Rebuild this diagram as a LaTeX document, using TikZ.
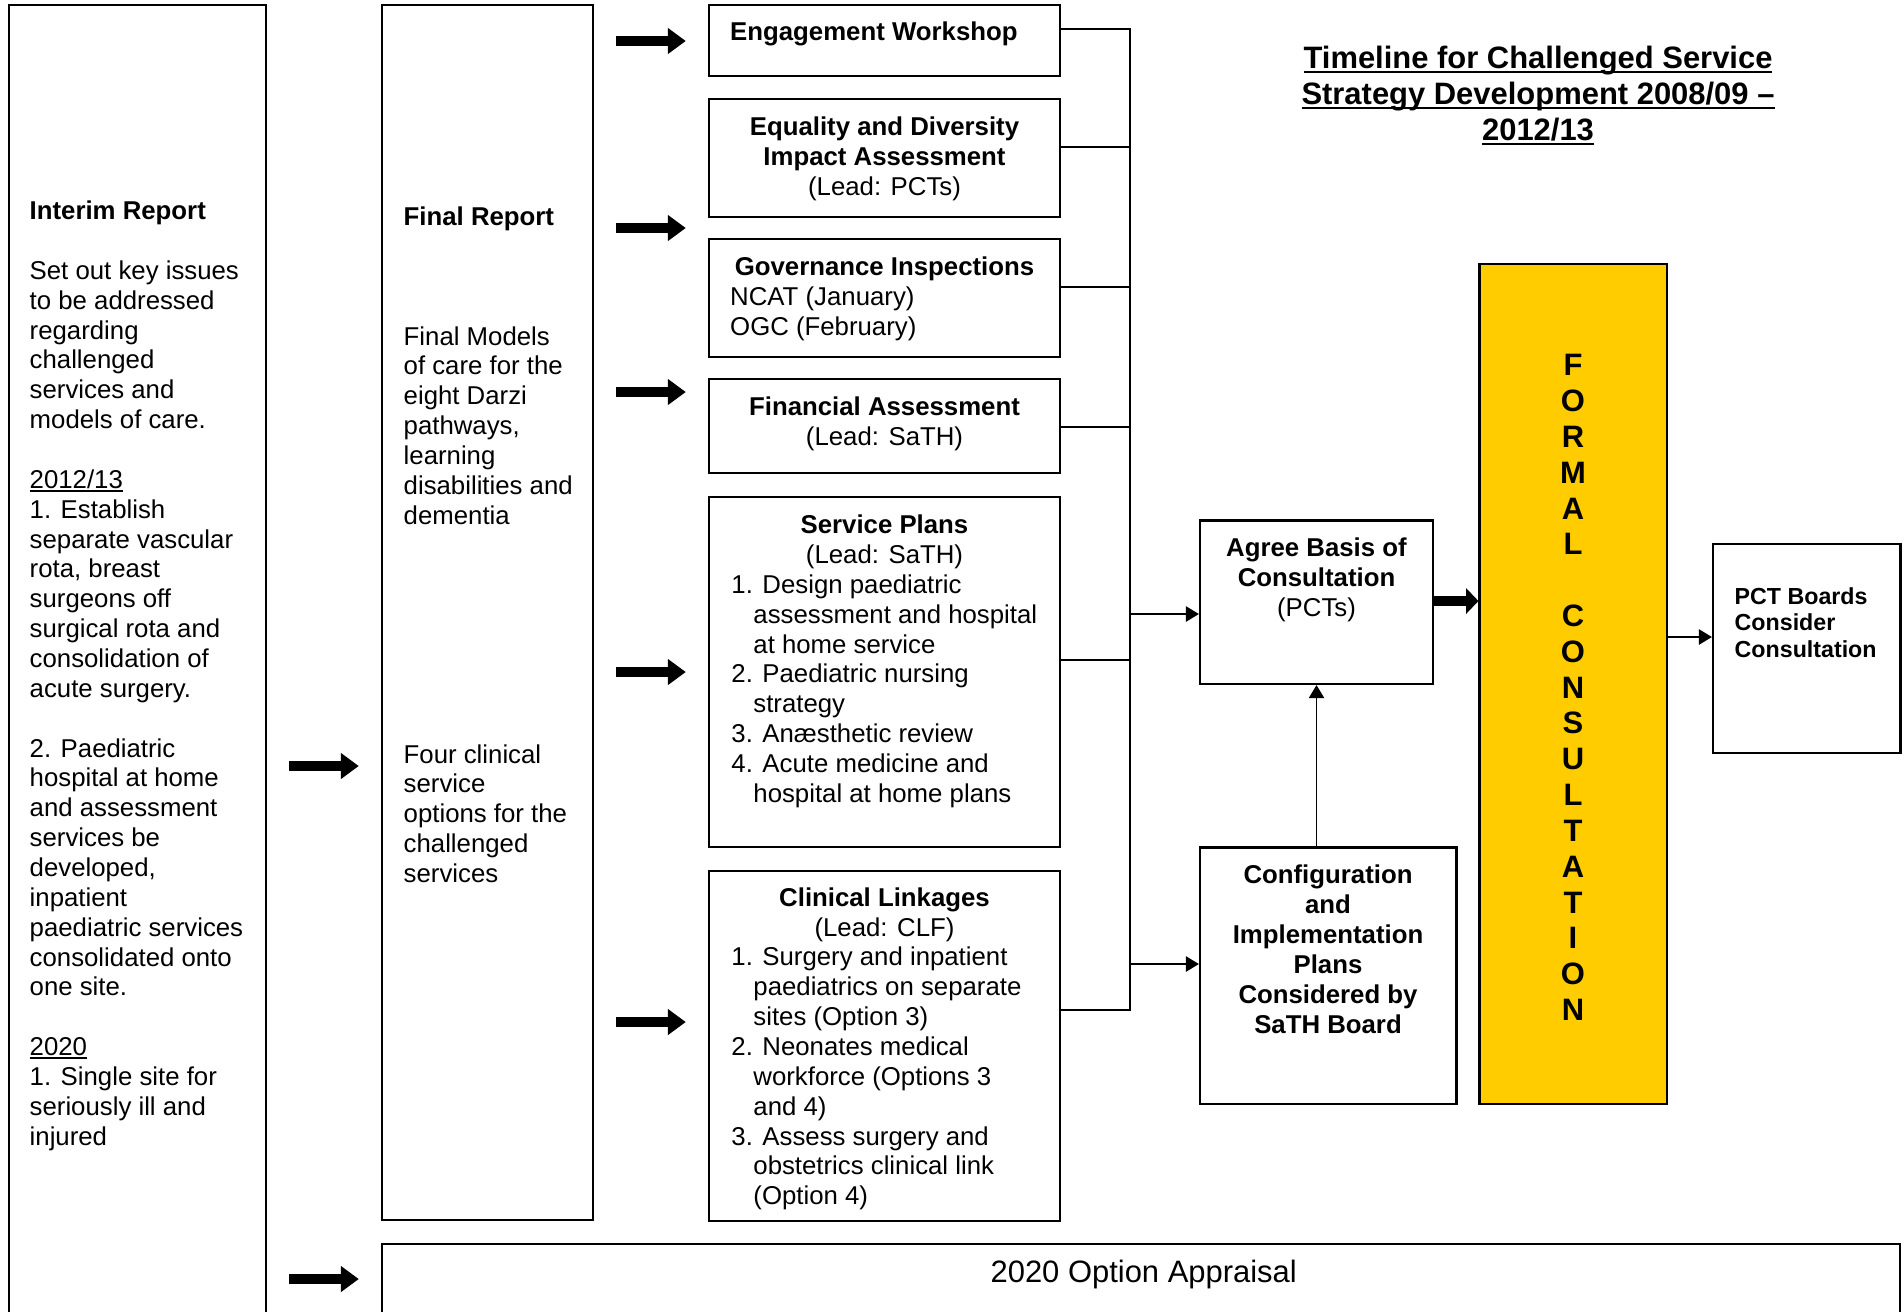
\documentclass[tikz,border=0pt]{standalone}
\usepackage{fontspec}
\setmainfont{Liberation Sans}
\usetikzlibrary{arrows.meta,fit}
\definecolor{fyellow}{RGB}{255,204,0}
\newsavebox\myulbox
\newcommand\myul[3]{\sbox\myulbox{#1}\usebox\myulbox\llap{\rule[#2]{\wd\myulbox}{#3}}}
\newcommand\bul[1]{\myul{#1}{-1.05pt}{0.54pt}}
\newcommand\tul[1]{\myul{#1}{-1.25pt}{0.64pt}}
\newcommand\bodyfont{\fontsize{7.33pt}{8.49pt}\selectfont}
\newcommand\sA{\rule{0pt}{6.5pt}}
\newcommand\ind{\hspace*{6.26pt}}
\begin{document}
\begin{tikzpicture}[x=0.01cm,y=-0.01cm,
  box/.style={draw, line width=0.6pt, inner sep=0pt, fit={#1}},
  txtL/.style={anchor=north west, inner sep=0pt, align=left, font=\bodyfont, yshift=6.5pt},
  txtC/.style={anchor=north, inner sep=0pt, align=center, font=\bodyfont, yshift=6.5pt},
  con/.style={line width=0.55pt},
  arr/.style={con, -{Triangle[length=3.7pt,width=4.3pt]}},
  fat/.style={line width=3pt, -{Triangle[length=5.1pt,width=7.1pt]}, shorten <=6.3pt, shorten >=6.3pt},
  bigletters/.style={anchor=north, inner sep=0pt, align=center, font=\bfseries\fontsize{8.8pt}{10.19pt}\selectfont, yshift=8pt}
]
\useasboundingbox (0,0) rectangle (1904,1311);
\clip (0,0) rectangle (1904,1311);

% boxes
\node[box={(9,5) (266,1340)}] (interim) {};
\node[box={(382,5) (593,1220)}] (final) {};
\node[box={(709,5) (1060,76)}] (eng) {};
\node[box={(709,99.3) (1060,217)}] (eq) {};
\node[box={(709,239.3) (1060,357.3)}] (gov) {};
\node[box={(709,379.3) (1060,473.3)}] (finas) {};
\node[box={(709,497) (1060,846.7)}] (serv) {};
\node[box={(709,871) (1060,1221)}] (clin) {};
\node[box={(382,1244) (1900,1340)}] (opt) {};
\node[box={(1200,520.5) (1433,684)}] (agree) {};
\node[box={(1200,847.5) (1456.5,1104)}] (config) {};
\node[box={(1479.5,263.6) (1667,1104)}, fill=fyellow] (formal) {};
\node[box={(1713,544) (1900.5,753)}] (pct) {};

% Interim report text
\node[txtL] (i1) at (29,219) {\sA\textbf{Interim Report}};
\node[txtL] (i2) at (29,278.7) {\sA Set out key issues\\to be addressed\\regarding\\challenged\\services and\\models of care.};
\node[txtL] (i3) at (29,487.7) {\sA\bul{2012/13}\\1. Establish\\separate vascular\\rota, breast\\surgeons off\\surgical rota and\\consolidation of\\acute surgery.};
\node[txtL] (i4) at (29,756.3) {\sA 2. Paediatric\\hospital at home\\and assessment\\services be\\developed,\\inpatient\\paediatric services\\consolidated onto\\one site.};
\node[txtL] (i5) at (29,1054.8) {\sA\bul{2020}\\1. Single site for\\seriously ill and\\injured};

% Final report text
\node[txtL] (f1) at (403,225) {\sA\textbf{Final Report}};
\node[txtL] (f2) at (403,344.4) {\sA Final Models\\of care for the\\eight Darzi\\pathways,\\learning\\disabilities and\\dementia};
\node[txtL] (f3) at (403,762.3) {\sA Four clinical\\service\\options for the\\challenged\\services};

% middle column text
\node[anchor=base west, inner sep=0pt, font=\bodyfont\bfseries] (engtxt) at (729.5,40.7) {Engagement Workshop};
\node[txtC] (eqtxt) at (884.5,135) {\sA\textbf{Equality and Diversity}\\\textbf{Impact Assessment}\\(Lead: PCTs)};
\node[txtC] (govtxt) at (884.5,275) {\sA\textbf{Governance Inspections}};
\node[txtL] (govtxt2) at (729.5,304.9) {\sA NCAT (January)\\OGC (February)};
\node[txtC] (fintxt) at (884.5,415) {\sA\textbf{Financial Assessment}\\(Lead: SaTH)};
\node[txtC] (servtxt) at (884.5,533) {\sA\textbf{Service Plans}\\(Lead: SaTH)};
\node[txtL] (servlist) at (730.7,592.7) {\sA 1. Design paediatric\\\ind assessment and hospital\\\ind at home service\\2. Paediatric nursing\\\ind strategy\\3. Anæsthetic review\\4. Acute medicine and\\\ind hospital at home plans};
\node[txtC] (clintxt) at (884.5,905.5) {\sA\textbf{Clinical Linkages}\\(Lead: CLF)};
\node[txtL] (clinlist) at (730.7,965.2) {\sA 1. Surgery and inpatient\\\ind paediatrics on separate\\\ind sites (Option 3)\\2. Neonates medical\\\ind workforce (Options 3\\\ind and 4)\\3. Assess surgery and\\\ind obstetrics clinical link\\\ind (Option 4)};

% right part text
\node[txtC] (agreetxt) at (1316.5,556) {\sA\textbf{Agree Basis of}\\\textbf{Consultation}\\(PCTs)};
\node[txtC, font=\bodyfont\bfseries] (configtxt) at (1328,883) {\sA Configuration\\and\\Implementation\\Plans\\Considered by\\SaTH Board};
\node[bigletters] (formal1) at (1573,375) {\rule{0pt}{8pt}F\\O\\R\\M\\A\\L};
\node[bigletters] (formal2) at (1573,625.6) {\rule{0pt}{8pt}C\\O\\N\\S\\U\\L\\T\\A\\T\\I\\O\\N};
\node[anchor=north west, inner sep=0pt, align=left, font=\bfseries\fontsize{6.6pt}{7.6pt}\selectfont, yshift=6pt] (pcttxt) at (1734,603.3) {\rule{0pt}{6pt}PCT Boards\\Consider\\Consultation};
\node[anchor=north, inner sep=0pt, align=center, font=\bfseries\fontsize{8.8pt}{10.24pt}\selectfont, yshift=8pt] (title) at (1538,68) {\rule{0pt}{8pt}\tul{Timeline for Challenged Service}\\\tul{Strategy Development 2008/09 –}\\\tul{2012/13}};
\node[anchor=base, inner sep=0pt, font=\fontsize{8.8pt}{10.2pt}\selectfont] (opttxt) at (1143.7,1282) {2020 Option Appraisal};

% fat arrows
\draw[fat] (interim.east |- 0,766) -- (final.west |- 0,766);
\draw[fat] (interim.east |- 0,1279) -- (opt.west |- 0,1279);
\draw[fat] (final.east |- 0,41) -- (eng.west |- 0,41);
\draw[fat] (final.east |- 0,228) -- (eq.west |- 0,228);
\draw[fat] (final.east |- 0,392) -- (finas.west |- 0,392);
\draw[fat] (final.east |- 0,672) -- (serv.west |- 0,672);
\draw[fat] (final.east |- 0,1022) -- (clin.west |- 0,1022);
\draw[line width=3pt, -{Triangle[length=3.5pt,width=7.1pt]}] (agree.east |- 0,601) -- (formal.west |- 0,601);

% bracket
\coordinate (bt) at (1130,29.3);
\coordinate (bb) at (1130,1010);
\draw[con] (eng.east |- bt) -- (bt) -- (bb) -- (clin.east |- bb);
\draw[con] (eq.east |- 0,146.7) -- (bt |- 0,146.7);
\draw[con] (gov.east |- 0,286.7) -- (bt |- 0,286.7);
\draw[con] (finas.east |- 0,426.7) -- (bt |- 0,426.7);
\draw[con] (serv.east |- 0,660) -- (bt |- 0,660);
\draw[arr] (bt |- 0,614) -- (agree.west |- 0,614);
\draw[arr] (bt |- 0,964) -- (config.west |- 0,964);
\draw[arr] (config.north -| agree.south) -- (agree.south);
\draw[arr] (formal.east |- 0,637) -- (pct.west |- 0,637);
\end{tikzpicture}
\end{document}
